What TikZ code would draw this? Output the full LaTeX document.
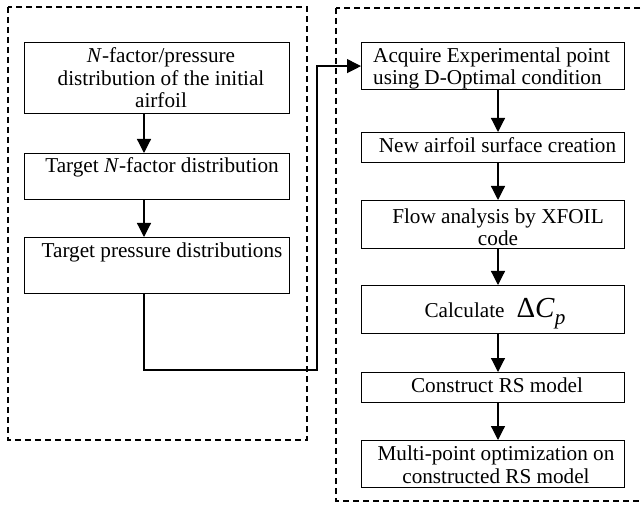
\documentclass[tikz,border=0pt]{standalone}
\usepackage{fontspec}
\setmainfont{Liberation Serif}
\usetikzlibrary{arrows.meta}
\begin{document}
\begin{tikzpicture}[x=1pt, y=-1pt,
    box/.style={draw, line width=1.2pt, anchor=north west, inner sep=0pt},
    txt/.style={inner sep=0pt, anchor=base, align=center, font=\fontsize{21.2}{22.5}\selectfont},
    flow/.style={-{Triangle[width=14pt, length=14pt]}, line width=1.2pt},
    frame/.style={dash pattern=on 6pt off 4pt, line width=1.1pt}]
    \clip (0,0) rectangle (643,505);
    \coordinate (ax) at (144, 0);
    \coordinate (rx) at (498, 0);
    \coordinate (jog) at (317, 370);

    \draw [frame] (8, 7) rectangle (307, 440);
    \draw [frame] (336, 8) rectangle (660, 501);

    \node [box, minimum width=265pt, minimum height=71pt] (l1) at (24, 42) {};
    \node [box, minimum width=265pt, minimum height=46pt] (l2) at (24, 153) {};
    \node [box, minimum width=265pt, minimum height=56pt] (l3) at (24, 237) {};

    \node [box, minimum width=263pt, minimum height=47pt] (r1) at (361, 42) {};
    \node [box, minimum width=263pt, minimum height=30pt] (r2) at (361, 132) {};
    \node [box, minimum width=263pt, minimum height=48pt] (r3) at (361, 200) {};
    \node [box, minimum width=263pt, minimum height=48pt] (r4) at (361, 285) {};
    \node [box, minimum width=263pt, minimum height=30pt] (r5) at (361, 372) {};
    \node [box, minimum width=263pt, minimum height=47pt] (r6) at (361, 440) {};

    \node [txt] (l1t) at (161, 108) {\textit{N}-factor/pressure\\distribution of the initial\\airfoil};
    \node [txt] (l2t) at (162, 173) {Target \textit{N}-factor distribution};
    \node [txt] (l3t) at (162, 258) {Target pressure distributions};

    \node [txt, align=left, anchor=base west] (r1t) at (373, 85) {Acquire Experimental point\\using D-Optimal condition};
    \node [txt] (r2t) at (497.5, 153) {New airfoil surface creation};
    \node [txt] (r3t) at (498, 246) {Flow analysis by XFOIL\\code};
    \node [txt] (r4t) at (495, 318) {Calculate\hspace{12pt}{\fontsize{29}{29}\selectfont Δ\textit{C}}\raisebox{-6pt}{\textit{p}}};
    \node [txt] (r5t) at (497, 392) {Construct RS model};
    \node [txt] (r6t) at (496, 483) {Multi-point optimization on\\constructed RS model};

    \draw [flow] (l1.south -| ax) -- (l2.north -| ax);
    \draw [flow] (l2.south -| ax) -- (l3.north -| ax);
    \draw [flow] (l3.south -| ax) |- (jog) |- (r1.west);
    \draw [flow] (r1.south -| rx) -- (r2.north -| rx);
    \draw [flow] (r2.south -| rx) -- (r3.north -| rx);
    \draw [flow] (r3.south -| rx) -- (r4.north -| rx);
    \draw [flow] (r4.south -| rx) -- (r5.north -| rx);
    \draw [flow] (r5.south -| rx) -- (r6.north -| rx);
\end{tikzpicture}
\end{document}
